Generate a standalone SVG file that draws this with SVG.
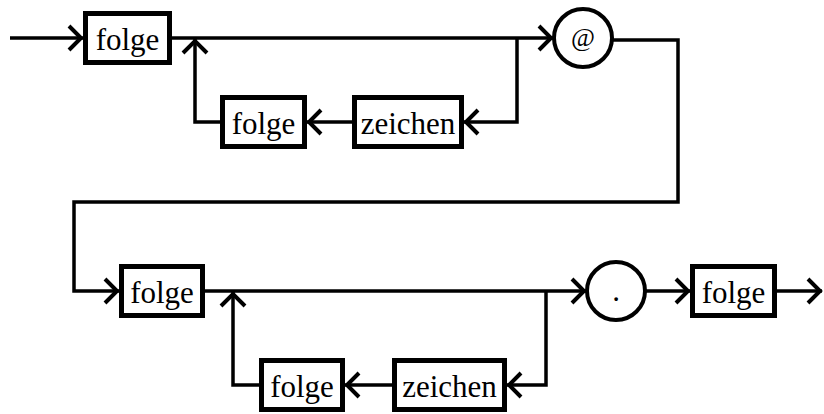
<svg xmlns="http://www.w3.org/2000/svg" width="824" height="414" viewBox="0 0 824 414">
  <style>
    .box { fill: #fff; stroke: #000; stroke-width: 5; }
    .term { fill: #fff; stroke: #000; stroke-width: 4; }
    .lbl { font-family: "Liberation Serif", "Times New Roman", serif; font-size: 31px; fill: #000; text-anchor: middle; }
    .conn { fill: none; stroke: #000; stroke-width: 3.5; stroke-linejoin: miter; }
  </style>
  <defs>
    <marker id="arrow" markerUnits="userSpaceOnUse" markerWidth="30" markerHeight="30" refX="0" refY="0" orient="auto" overflow="visible">
      <path d="M-14,-12 L-2,0 L-14,12" fill="none" stroke="#000" stroke-width="4"/>
    </marker>
  </defs>

  <rect width="824" height="414" fill="#fff"/>

  <g id="connectors" class="conn">
    <path d="M10,38 H83" marker-end="url(#arrow)"/>
    <path d="M172,38 H553" marker-end="url(#arrow)"/>
    <path d="M517,38 V122 H464" marker-end="url(#arrow)"/>
    <path d="M352,122 H307" marker-end="url(#arrow)"/>
    <path d="M220,122 H195 V39" marker-end="url(#arrow)"/>
    <path d="M612,40 H678 V202 H74 V291 H119" marker-end="url(#arrow)"/>
    <path d="M205,291 H586" marker-end="url(#arrow)"/>
    <path d="M546,291 V385 H507" marker-end="url(#arrow)"/>
    <path d="M392,385 H345" marker-end="url(#arrow)"/>
    <path d="M259,385 H233 V292" marker-end="url(#arrow)"/>
    <path d="M646,291 H690" marker-end="url(#arrow)"/>
    <path d="M777,291 H822" marker-end="url(#arrow)"/>
  </g>

  <g id="folge1">
    <rect class="box" x="85.5" y="13.5" width="84" height="49"/>
    <text class="lbl" x="127.5" y="50">folge</text>
  </g>
  <g id="folge-loop1">
    <rect class="box" x="222.5" y="97.5" width="82" height="49"/>
    <text class="lbl" x="263.5" y="134">folge</text>
  </g>
  <g id="zeichen1">
    <rect class="box" x="354.5" y="97.5" width="107" height="49"/>
    <text class="lbl" x="408" y="134">zeichen</text>
  </g>
  <g id="at">
    <circle class="term" cx="583" cy="38" r="29"/>
    <text class="lbl" x="583" y="46" style="font-size:26px">@</text>
  </g>
  <g id="folge2">
    <rect class="box" x="121.5" y="266.5" width="81" height="49"/>
    <text class="lbl" x="162" y="303">folge</text>
  </g>
  <g id="folge-loop2">
    <rect class="box" x="261.5" y="360.5" width="81" height="49"/>
    <text class="lbl" x="302" y="397">folge</text>
  </g>
  <g id="zeichen2">
    <rect class="box" x="394.5" y="360.5" width="110" height="49"/>
    <text class="lbl" x="449.5" y="397">zeichen</text>
  </g>
  <g id="dot">
    <circle class="term" cx="616" cy="291" r="29"/>
    <text class="lbl" x="616" y="301">.</text>
  </g>
  <g id="folge3">
    <rect class="box" x="692.5" y="266.5" width="82" height="49"/>
    <text class="lbl" x="733.5" y="303">folge</text>
  </g>
</svg>
